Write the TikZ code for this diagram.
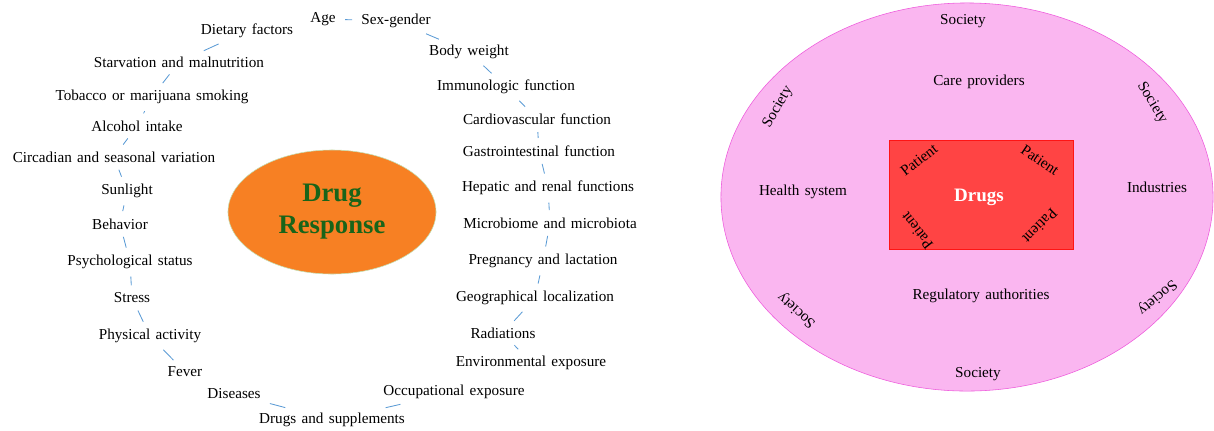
\documentclass[tikz,border=0pt]{standalone}
\usepackage{fontspec}
\setmainfont{Liberation Serif}[WordSpace=1.4]
\usepackage{xcolor}
\usepackage{tikz}
\usetikzlibrary{shapes,positioning}

\definecolor{linkblue}{RGB}{91,155,213}
\definecolor{hubfill}{RGB}{247,128,35}
\definecolor{hubline}{RGB}{197,224,180}
\definecolor{hubtext}{RGB}{25,100,25}
\definecolor{societyfill}{RGB}{250,182,240}
\definecolor{societyline}{RGB}{238,90,220}
\definecolor{drugfill}{RGB}{255,68,68}
\definecolor{drugline}{RGB}{255,20,20}

\begin{document}
\begin{tikzpicture}[
    x=0.025cm, y=-0.025cm,
    factor/.style={inner xsep=4.5pt, inner ysep=3.2pt, font=\fontsize{10.8}{12}\selectfont},
    link/.style={draw=linkblue, line width=0.6pt, shorten <=2pt, shorten >=2pt},
    hub/.style={ellipse, draw=hubline, fill=hubfill, inner sep=0pt, minimum width=5.2cm, minimum height=3.1cm, align=center, text=hubtext, font=\fontsize{19}{22.8}\selectfont\bfseries},
    society/.style={ellipse, draw=societyline, fill=societyfill, minimum width=12.3cm, minimum height=9.7cm},
    core/.style={rectangle, draw=drugline, fill=drugfill, minimum width=4.6cm, minimum height=2.72cm},
    label/.style={inner sep=1pt, font=\fontsize{10.8}{12}\selectfont},
]
    \useasboundingbox (0,0) rectangle (1214,430);

    % Drug response
    \node[hub] (hub) at (332,212) {Drug\\Response};

    % Factors, clockwise from the top
    \node[factor] (age) at (323,19) {Age};
    \node[factor] (sex) at (396,21) {Sex-gender};
    \node[factor] (weight) at (469,52) {Body weight};
    \node[factor] (immuno) at (506,87) {Immunologic function};
    \node[factor] (cardio) at (537,119) {Cardiovascular function};
    \node[factor] (gastro) at (539,151) {Gastrointestinal function};
    \node[factor] (hepatic) at (548,188) {Hepatic and renal functions};
    \node[factor] (microbiome) at (550,223) {Microbiome and microbiota};
    \node[factor] (pregnancy) at (543,261) {Pregnancy and lactation};
    \node[factor] (geo) at (535,298) {Geographical localization};
    \node[factor] (radiation) at (503,333) {Radiations};
    \node[factor] (envexp) at (531,363) {Environmental exposure};
    \node[factor] (occexp) at (454,392) {Occupational exposure};
    \node[factor] (drugsupp) at (332,420) {Drugs and supplements};
    \node[factor] (diseases) at (234,394) {Diseases};
    \node[factor] (fever) at (185,372) {Fever};
    \node[factor] (physical) at (150,336) {Physical activity};
    \node[factor] (stress) at (132,298) {Stress};
    \node[factor] (psych) at (130,262) {Psychological status};
    \node[factor] (behavior) at (120,224) {Behavior};
    \node[factor] (sunlight) at (127,191) {Sunlight};
    \node[factor] (circadian) at (114,157) {Circadian and seasonal variation};
    \node[factor] (alcohol) at (137,126) {Alcohol intake};
    \node[factor] (tobacco) at (152,97) {Tobacco or marijuana smoking};
    \node[factor] (starvation) at (179,62) {Starvation and malnutrition};
    \node[factor] (dietary) at (247,31) {Dietary factors};

    % Links
    \draw[link] (age) -- (sex);
    \draw[link] (sex) -- (weight);
    \draw[link] (weight) -- (immuno);
    \draw[link] (immuno) -- (cardio);
    \draw[link] (cardio) -- (gastro);
    \draw[link] (gastro) -- (hepatic);
    \draw[link] (hepatic) -- (microbiome);
    \draw[link] (microbiome) -- (pregnancy);
    \draw[link] (pregnancy) -- (geo);
    \draw[link] (geo) -- (radiation);
    \draw[link] (radiation) -- (envexp);
    \draw[link] (occexp) -- (drugsupp);
    \draw[link] (drugsupp) -- (diseases);
    \draw[link] (fever) -- (physical);
    \draw[link] (physical) -- (stress);
    \draw[link] (stress) -- (psych);
    \draw[link] (psych) -- (behavior);
    \draw[link] (behavior) -- (sunlight);
    \draw[link] (sunlight) -- (circadian);
    \draw[link] (circadian) -- (alcohol);
    \draw[link] (alcohol) -- (tobacco);
    \draw[link] (tobacco) -- (starvation);
    \draw[link] (starvation) -- (dietary);

    % Society
    \node[society] (world) at (967,197) {};
    \node[core] (drugs) at (981,194.5) {};
    \node[font=\fontsize{13.5}{15}\selectfont\bfseries, text=white] (drugname) at (979,197) {Drugs};

    \node[label, rotate=38] (pat1) at (919,160) {Patient};
    \node[label, rotate=-34] (pat2) at (1040,160) {Patient};
    \node[label, rotate=128] (pat3) at (917,231) {Patient};
    \node[label, rotate=-135] (pat4) at (1040,226) {Patient};

    \node[label] (care) at (979,82) {Care providers};
    \node[label] (health) at (803,192) {Health system};
    \node[label] (industry) at (1157,187) {Industries};
    \node[label] (regul) at (981,296) {Regulatory authorities};

    \node[label] (soc1) at (963,21) {Society};
    \node[label, rotate=60] (soc2) at (778,107) {Society};
    \node[label, rotate=-59] (soc3) at (1152,103) {Society};
    \node[label, rotate=138] (soc4) at (797,310) {Society};
    \node[label, rotate=-140] (soc5) at (1157,297) {Society};
    \node[label] (soc6) at (978,374) {Society};
\end{tikzpicture}
\end{document}
